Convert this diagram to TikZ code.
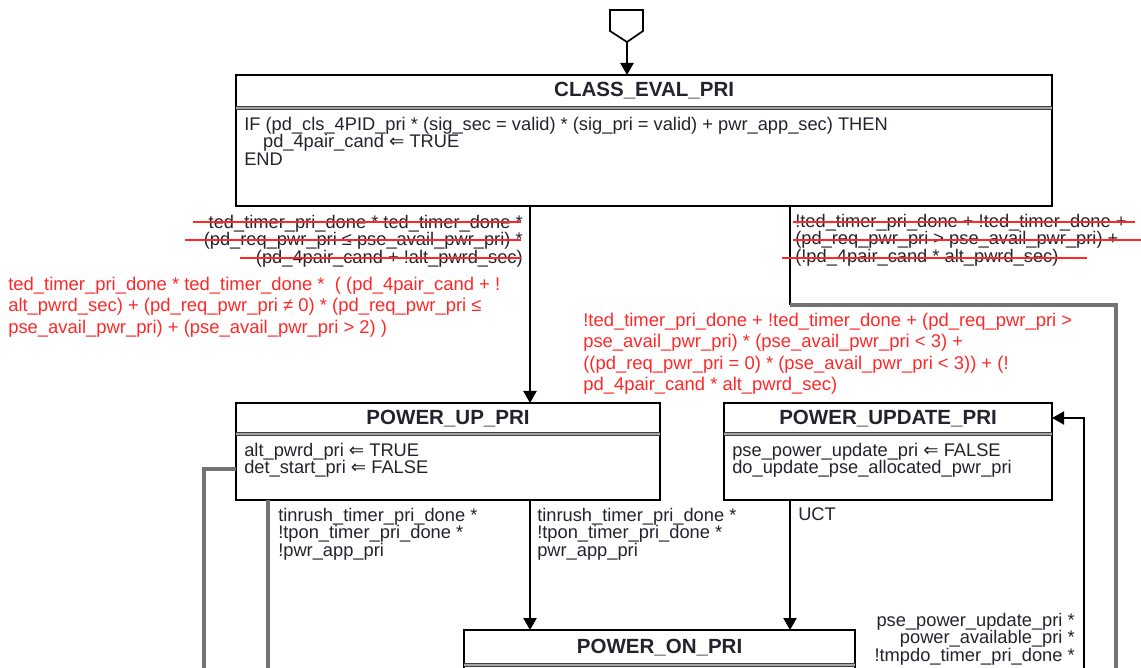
\documentclass[tikz,border=0pt]{standalone}
\usepackage{fontspec}
\setmainfont{Liberation Sans}
\newfontfamily\symfont{DejaVu Sans}
\usepackage{xcolor}
\usetikzlibrary{arrows.meta,positioning,calc}

\definecolor{inkcol}{RGB}{35,35,45}
\definecolor{fixred}{RGB}{255,40,40}
\definecolor{exitgray}{RGB}{115,115,115}

\newcommand{\setto}{{\symfont ⇐}}

\begin{document}
\begin{tikzpicture}[
    x=0.025cm, y=-0.025cm,
    state/.style={rectangle, draw=black, line width=1.2pt, inner sep=0pt,
        outer sep=0pt, anchor=north west},
    sttitle/.style={font=\fontsize{14.6}{16}\selectfont\bfseries, text=inkcol},
    body/.style={font=\fontsize{13}{12.76}\selectfont, text=inkcol,
        align=left, inner sep=0pt, anchor=north west},
    redfix/.style={font=\fontsize{13.1}{15.3}\selectfont, text=fixred,
        align=left, inner sep=0pt, anchor=north west},
    divider/.style={draw=black!75, line width=0.7pt, double=black!35, double distance=1.2pt},
    edge/.style={-{Triangle[length=0.3cm, width=0.33cm]}, line width=1.2pt},
    exitline/.style={draw=exitgray, line width=2.2pt},
    strike/.style={draw=fixred, line width=1pt}
]
    \useasboundingbox (0,0) rectangle (1141,668);
    \clip (0,0) rectangle (1141,668);

    % states
    \node[state, minimum width=20.4cm, minimum height=3.275cm] (cep) at (236,75) {};
    \node[state, minimum width=10.6cm, minimum height=2.425cm] (pup) at (236,403) {};
    \node[state, minimum width=8.2cm, minimum height=2.425cm] (pud) at (724,403) {};
    \node[state, minimum width=9.775cm, minimum height=3cm] (pon) at (464,630) {};

    \node[sttitle] (cep-t) at ($(cep.north)+(0,16)$) {CLASS\_EVAL\_PRI};
    \node[sttitle] (pup-t) at ($(pup.north)+(0,16)$) {POWER\_UP\_PRI};
    \node[sttitle] (pud-t) at ($(pud.north)+(0,16)$) {POWER\_UPDATE\_PRI};
    \node[sttitle] (pon-t) at ($(pon.north)+(0,18)$) {POWER\_ON\_PRI};

    \draw[divider] ($(cep.north west)+(0,33)$) -- ($(cep.north east)+(0,33)$);
    \draw[divider] ($(pup.north west)+(0,31)$) -- ($(pup.north east)+(0,31)$);
    \draw[divider] ($(pud.north west)+(0,31)$) -- ($(pud.north east)+(0,31)$);
    \draw[divider] ($(pon.north west)+(0,35)$) -- ($(pon.north east)+(0,35)$);

    \node[body] (cep-b) at (244,116.5) {IF (pd\_cls\_4PID\_pri * (sig\_sec = valid) * (sig\_pri = valid) + pwr\_app\_sec) THEN\\
        \hspace*{0.47cm}pd\_4pair\_cand \setto\ TRUE\\END};
    \node[body] (pup-b) at (244,442.5) {alt\_pwrd\_pri \setto\ TRUE\\det\_start\_pri \setto\ FALSE};
    \node[body] (pud-b) at (732,442.5) {pse\_power\_update\_pri \setto\ FALSE\\do\_update\_pse\_allocated\_pwr\_pri};

    % entry
    \draw[line width=1.2pt] (610,10) -- (643,10) -- (643,31) -- (627,42) -- (610,31) -- cycle;
    \coordinate (init) at (627,42);

    % columns of the connectors
    \coordinate (upx) at (530,0);
    \coordinate (updx) at (790,0);
    \coordinate (retx) at (1084,0);
    \coordinate (outx) at (268,0);
    \coordinate (farx) at (1116,0);
    \coordinate (leftx) at (204,0);
    \coordinate (offB) at (0,720);

    \draw[edge] (init) -- (cep.north -| init);
    \draw[edge] (cep.south -| upx) -- (pup.north -| upx);
    \draw[line width=1.2pt] (cep.south -| updx) -- ($(cep.south -| updx)+(0,99)$) coordinate (bend);
    \draw[exitline] (bend) -| (farx |- offB);
    \draw[exitline] ($(pup.north west)+(0,66)$) -| (leftx |- offB);
    \draw[exitline] (pup.south -| outx) -- (outx |- offB);
    \draw[edge] (pup.south -| upx) -- (pon.north -| upx);
    \draw[edge] (pud.south -| updx) -- (pon.north -| updx);
    \draw[edge] (retx |- offB) |- ($(pud.north east)+(0,15)$);

    % old conditions, struck out
    \node[body, align=right, anchor=north east] (old-l) at (523,214.5) {ted\_timer\_pri\_done * ted\_timer\_done *\\
        (pd\_req\_pwr\_pri ≤ pse\_avail\_pwr\_pri) *\\(pd\_4pair\_cand + !alt\_pwrd\_sec)};
    \node[body] (old-r) at (795,213.5) {!ted\_timer\_pri\_done + !ted\_timer\_done +\\
        (pd\_req\_pwr\_pri > pse\_avail\_pwr\_pri) +\\(!pd\_4pair\_cand * alt\_pwrd\_sec)};
    \draw[strike] (193,222) -- (521,222);
    \draw[strike] (185,240) -- (521,240);
    \draw[strike] (240,258) -- (521,258);
    \draw[strike] (793,222) -- (1135,222);
    \draw[strike] (793,240) -- (1141,240);
    \draw[strike] (782,258) -- (1087,258);

    % new conditions
    \node[redfix] (new-l) at (8,276.5) {ted\_timer\_pri\_done * ted\_timer\_done *\ \ ( (pd\_4pair\_cand + !\\
        alt\_pwrd\_sec) + (pd\_req\_pwr\_pri ≠ 0) * (pd\_req\_pwr\_pri ≤\\
        pse\_avail\_pwr\_pri) + (pse\_avail\_pwr\_pri > 2) )};
    \node[redfix] (new-r) at (583,312.5) {!ted\_timer\_pri\_done + !ted\_timer\_done + (pd\_req\_pwr\_pri >\\
        pse\_avail\_pwr\_pri) * (pse\_avail\_pwr\_pri < 3) +\\
        ((pd\_req\_pwr\_pri = 0) * (pse\_avail\_pwr\_pri < 3)) + (!\\
        pd\_4pair\_cand * alt\_pwrd\_sec)};

    % transition labels
    \node[body] (lbl-out) at (278,507.5) {tinrush\_timer\_pri\_done *\\!tpon\_timer\_pri\_done *\\!pwr\_app\_pri};
    \node[body] (lbl-on) at (537,507.5) {tinrush\_timer\_pri\_done *\\!tpon\_timer\_pri\_done *\\pwr\_app\_pri};
    \node[body] (lbl-uct) at (798,507.5) {UCT};
    \node[body, align=right, anchor=north east] (lbl-ret) at (1075,612.5) {pse\_power\_update\_pri *\\
        power\_available\_pri *\\!tmpdo\_timer\_pri\_done *};
\end{tikzpicture}
\end{document}
